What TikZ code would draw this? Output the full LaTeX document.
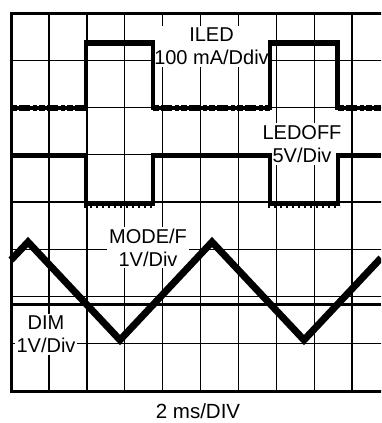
\documentclass[tikz,border=0pt]{standalone}
\usepackage{fontspec}
\setmainfont{Liberation Sans}

\tikzset{
  grid line/.style={line width=1.4pt},
  frame line/.style={line width=3pt},
  trace/.style={line width=4.5pt,line join=miter},
  noise/.style={line width=5.5pt,dash pattern=on 6pt off 2pt on 11pt off 3pt on 4pt off 2pt},
  scope label/.style={fill=white,inner sep=2pt,align=center,font=\fontsize{20}{23}\selectfont},
}

\begin{document}
\begin{tikzpicture}[x=1pt,y=-1pt]
% page
\fill[white] (0,0) rectangle (381,423);
\useasboundingbox (0,0) rectangle (381,423);
\begin{scope}
\clip (0,0) rectangle (381,423);

% graticule, 10 x 8 divisions (right edge cut off)
\foreach \k in {1,...,9}
  \draw[grid line] ({11+37.9*\k},13) -- ({11+37.9*\k},391);
\foreach \k in {1,...,7}
  \draw[grid line] (11,{13+47.25*\k}) -- (390,{13+47.25*\k});
\draw[frame line] (11,13) rectangle (390,391);

% channel labels, white boxes over the grid
\node[scope label] (iled) at (211.5,46.5) {ILED\\100 mA/Ddiv};
\node[scope label] (ledoff) at (302,144) {LEDOFF\\5V/Div};
\node[scope label] (modef) at (148,247.5) {MODE/F\\1V/Div};
\node[scope label] (dim) at (46,334.5) {DIM\\1V/Div};

% ILED
\draw[trace] (11,108) -- (86,108) -- (86,43) -- (153,43) -- (153,108)
  -- (270,108) -- (270,43) -- (337.5,43) -- (337.5,108) -- (381,108);
\draw[line width=6.5pt] (84,43) -- (155,43) (268,43) -- (339.5,43);
\foreach \a/\b in {11/86,153/270,337.5/381}
  \draw[noise] (\a,108) -- (\b,108);

% LEDOFF
\draw[trace] (11,155.5) -- (86,155.5) -- (86,204) -- (153,204) -- (153,155.5)
  -- (270,155.5) -- (270,204) -- (338,204) -- (338,155.5) -- (381,155.5);
\foreach \a/\b in {84/155,268/340}
  \draw[line width=3pt,dash pattern=on 2pt off 4pt] (\a,206.5) -- (\b,206.5);

% MODE/F
\draw[trace,line width=7pt] (11,260) -- (28,242) -- (120,340) -- (212,242)
  -- (304,340) -- (381,258);

% DIM
\draw[trace,line width=3.5pt] (11,304.5) -- (381,304.5);
\end{scope}

% time base
\node[font=\fontsize{20.5}{24}\selectfont] (timebase) at (198,411) {2 ms/DIV};
\end{tikzpicture}
\end{document}
